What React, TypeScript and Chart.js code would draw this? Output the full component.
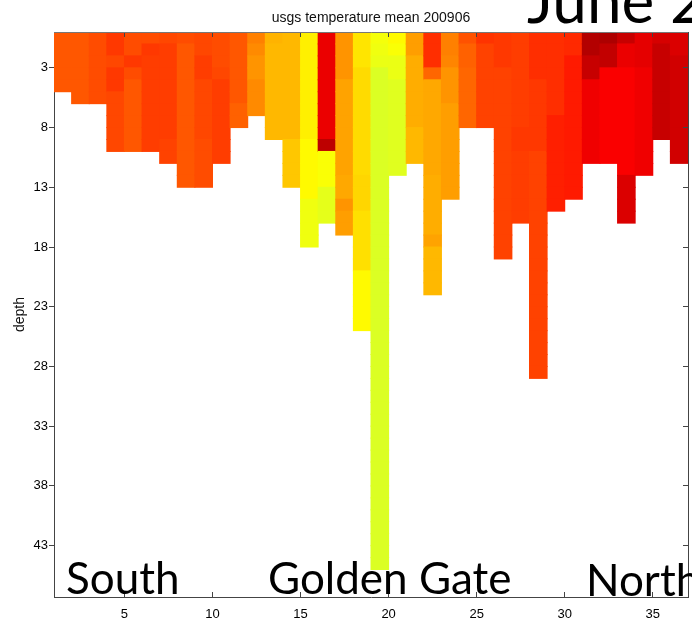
import React, { useEffect, useRef } from 'react';
import { Chart, registerables } from 'chart.js';

Chart.register(...registerables);

// ---------- data ----------
const chartTitle = 'usgs temperature mean 200906';
const yAxisTitle = 'depth';
const xTickValues = [5, 10, 15, 20, 25, 30, 35];
const yTickValues = [3, 8, 13, 18, 23, 28, 33, 38, 43];
const xRange = [1, 37];
const depthRange = [0, 47.3];
const colorLimits = [10, 20];

// station index (left edge of each column)
const stations = [
  1, 2, 3, 4, 5, 6, 7, 8, 9, 10, 11, 12, 13, 14, 15, 16, 17, 18,
  19, 20, 21, 22, 23, 24, 25, 26, 27, 28, 29, 30, 31, 32, 33, 34, 35, 36,
];

// mean temperature per 1 m depth cell, top to bottom, one list per station
const profiles: number[][] = [
  [17.9, 17.9, 17.9, 17.9, 17.9],
  [17.9, 17.9, 17.9, 17.9, 17.9, 17.9],
  [18.0, 18.0, 18.0, 18.0, 18.0, 18.0],
  [18.2, 18.2, 18.05, 18.2, 18.2, 18.05, 18.05, 18.05, 18.05, 18.05],
  [18.0, 18.0, 18.2, 18.0, 17.9, 17.9, 17.9, 17.9, 17.9, 17.9],
  [18.0, 18.2, 18.15, 18.15, 18.15, 18.15, 18.15, 18.15, 18.15, 18.15],
  [18.05, 18.15, 18.15, 18.15, 18.15, 18.15, 18.15, 18.15, 18.15, 18.1, 18.1],
  [18.0, 17.9, 17.9, 17.9, 17.9, 17.9, 17.9, 17.9, 17.9, 17.9, 17.9, 17.9, 17.9],
  [18.05, 18.05, 18.15, 18.15, 18.05, 18.05, 18.05, 18.05, 18.05, 18.0, 18.0, 18.0, 18.0],
  [18.0, 18.0, 18.0, 18.05, 18.15, 18.15, 18.15, 18.15, 18.15, 18.15, 18.15],
  [17.9, 17.9, 17.9, 17.9, 17.9, 17.9, 17.8, 17.8],
  [17.5, 17.4, 17.3, 17.3, 17.4, 17.4, 17.4],
  [17.0, 16.95, 16.95, 16.95, 16.95, 16.95, 16.95, 16.95, 16.95],
  [16.95, 16.95, 16.95, 16.95, 16.95, 16.95, 16.95, 16.95, 16.95, 16.8, 16.8, 16.8, 16.8],
  [16.4, 16.4, 16.4, 16.4, 16.4, 16.4, 16.4, 16.4, 16.4, 16.3, 16.3, 16.3, 16.3, 16.3, 16.1, 16.1, 16.1, 16.1],
  [18.95, 18.95, 18.95, 18.95, 18.95, 18.95, 18.95, 18.95, 18.95, 19.4, 16.2, 16.2, 16.2, 16.0, 16.0, 16.0],
  [17.3, 17.3, 17.3, 17.3, 17.15, 17.15, 17.15, 17.15, 17.15, 17.15, 17.15, 17.15, 17.1, 17.1, 17.3, 17.2, 17.2],
  [16.5, 16.5, 16.5, 16.6, 16.6, 16.6, 16.6, 16.6, 16.6, 16.6, 16.6, 16.6, 16.65, 16.65, 16.65, 16.55, 16.55, 16.55, 16.55, 16.55, 16.3, 16.3, 16.3, 16.3, 16.3],
  [16.15, 16.1, 16.05, 15.9, 15.9, 15.9, 15.9, 15.9, 15.9, 15.9, 15.9, 15.9, 15.9, 15.9, 15.9, 15.9, 15.9, 15.9, 15.9, 15.9, 15.9, 15.9, 15.9, 15.9, 15.9, 15.9, 15.9, 15.9, 15.9, 15.9, 15.9, 15.9, 15.9, 15.9, 15.9, 15.9, 15.9, 15.9, 15.9, 15.9, 15.9, 15.9, 15.9, 15.9, 15.9],
  [16.3, 16.2, 16.05, 16.05, 15.95, 15.95, 15.95, 15.95, 15.95, 15.95, 15.95, 15.95],
  [17.2, 17.2, 17.05, 17.05, 17.05, 17.05, 17.05, 17.05, 16.95, 16.95, 16.95],
  [18.3, 18.3, 18.3, 17.75, 17.1, 17.1, 17.1, 17.1, 17.1, 17.1, 17.1, 17.1, 17.05, 17.05, 17.05, 17.05, 17.05, 17.15, 16.95, 16.95, 16.95, 16.95],
  [17.5, 17.5, 17.45, 17.3, 17.3, 17.3, 17.2, 17.2, 17.2, 17.2, 17.2, 17.2, 17.2, 17.2],
  [17.95, 17.8, 17.8, 17.75, 17.75, 17.75, 17.75, 17.75],
  [18.25, 18.1, 18.1, 18.1, 18.1, 18.1, 18.1, 18.1],
  [18.2, 18.2, 18.2, 18.1, 18.1, 18.1, 18.1, 18.1, 18.1, 18.1, 18.1, 18.1, 18.1, 18.1, 18.1, 18.1, 18.1, 18.1, 18.1],
  [18.15, 18.15, 18.15, 18.15, 18.15, 18.15, 18.15, 18.15, 18.2, 18.2, 18.15, 18.15, 18.15, 18.15, 18.15, 18.15],
  [18.3, 18.3, 18.3, 18.3, 18.2, 18.2, 18.2, 18.2, 18.2, 18.2, 18.1, 18.1, 18.1, 18.1, 18.1, 18.1, 18.1, 18.1, 18.1, 18.1, 18.1, 18.1, 18.1, 18.1, 18.1, 18.1, 18.1, 18.1, 18.1],
  [18.3, 18.3, 18.3, 18.3, 18.3, 18.3, 18.3, 18.45, 18.45, 18.45, 18.45, 18.45, 18.45, 18.45, 18.45],
  [18.35, 18.35, 18.5, 18.5, 18.5, 18.5, 18.5, 18.5, 18.5, 18.5, 18.5, 18.5, 18.5, 18.5],
  [19.5, 19.5, 19.3, 19.3, 18.9, 18.9, 18.9, 18.9, 18.9, 18.9, 18.9],
  [19.55, 19.35, 19.35, 18.8, 18.8, 18.8, 18.8, 18.8, 18.8, 18.8, 18.8],
  [19.3, 18.95, 18.95, 18.8, 18.8, 18.8, 18.8, 18.8, 18.8, 18.8, 18.8, 18.8, 19.1, 19.1, 19.1, 19.1],
  [19.0, 19.0, 19.0, 18.9, 18.9, 18.9, 18.9, 18.9, 18.9, 18.9, 18.9, 18.9],
  [19.15, 19.3, 19.3, 19.3, 19.3, 19.3, 19.3, 19.3, 19.3],
  [19.1, 19.1, 19.2, 19.2, 19.2, 19.2, 19.2, 19.2, 19.2, 19.2, 19.2],
];

const regionLabels = ['South', 'Golden Gate', 'North'];
const dateLabel = 'June 2';

// ---------- helpers ----------
function jet(t: number): string {
  const v = Math.min(1, Math.max(0, (t - colorLimits[0]) / (colorLimits[1] - colorLimits[0])));
  const c = (x: number) => Math.round(255 * Math.min(1, Math.max(0, 1.5 - Math.abs(x))));
  return `rgb(${c(4 * v - 3)},${c(4 * v - 2)},${c(4 * v - 1)})`;
}

const fontFamily = '"Liberation Sans", Arial, sans-serif';
const tickFont = { family: fontFamily, size: 13 };
const axisColor = '#444';

export default function App() {
  const canvasRef = useRef<HTMLCanvasElement | null>(null);

  useEffect(() => {
    const canvas = canvasRef.current;
    if (!canvas) return;

    const points: { x: number; y: [number, number] }[] = [];
    const colors: string[] = [];
    stations.forEach((s, i) => {
      profiles[i].forEach((t, r) => {
        points.push({ x: s + 0.5, y: [r, r + 1] });
        colors.push(jet(t));
      });
    });

    const setX = (s: any) => { s.ticks = xTickValues.map((v) => ({ value: v })); };
    const setY = (s: any) => { s.ticks = yTickValues.map((v) => ({ value: v })); };

    const chart = new Chart(canvas, {
      type: 'bar',
      data: {
        datasets: [
          {
            data: points as any,
            backgroundColor: colors,
            borderWidth: 0,
            barPercentage: 1,
            categoryPercentage: 1,
            inflateAmount: 0.5,
          } as any,
        ],
      },
      options: {
        animation: false,
        responsive: false,
        maintainAspectRatio: false,
        layout: { padding: { left: 0, right: 4, top: 0, bottom: 0 } },
        plugins: {
          legend: { display: false },
          tooltip: { enabled: false },
          title: { display: false },
        },
        scales: {
          x: {
            type: 'linear',
            position: 'bottom',
            min: xRange[0],
            max: xRange[1],
            offset: false,
            afterBuildTicks: setX,
            afterFit: (s: any) => { s.height = 27; },
            grid: { display: true, offset: false, drawOnChartArea: false, drawTicks: true, tickLength: -5, color: axisColor, z: 1 },
            border: { display: true, color: axisColor, z: 1 },
            ticks: { color: '#000', font: tickFont, padding: 15, maxRotation: 0, autoSkip: false },
          },
          x2: {
            type: 'linear',
            position: 'top',
            min: xRange[0],
            max: xRange[1],
            offset: false,
            afterBuildTicks: setX,
            afterFit: (s: any) => { s.height = 32; },
            grid: { display: true, offset: false, drawOnChartArea: false, drawTicks: true, tickLength: -5, color: axisColor, z: 1 },
            border: { display: true, color: '#777', z: 1 },
            ticks: { display: false },
            title: {
              display: true,
              text: chartTitle,
              color: '#111',
              font: { family: fontFamily, size: 14 },
              padding: { top: 9.6, bottom: 0 },
            },
          },
          y: {
            type: 'linear',
            position: 'left',
            reverse: true,
            min: depthRange[0],
            max: depthRange[1],
            afterBuildTicks: setY,
            afterFit: (s: any) => { s.width = 54; },
            grid: { display: true, drawOnChartArea: false, drawTicks: true, tickLength: 5, color: axisColor },
            border: { display: true, color: axisColor },
            title: {
              display: true,
              text: yAxisTitle,
              color: '#111',
              font: { family: fontFamily, size: 14 },
              padding: { top: 11.6, bottom: 0 },
            },
            ticks: { color: '#000', font: tickFont, padding: 1, autoSkip: false },
          },
          y2: {
            type: 'linear',
            position: 'right',
            reverse: true,
            min: depthRange[0],
            max: depthRange[1],
            afterBuildTicks: setY,
            afterFit: (s: any) => { s.width = 0; },
            grid: { display: true, drawOnChartArea: false, drawTicks: true, tickLength: -5, color: axisColor, z: 1 },
            border: { display: true, color: axisColor, z: 1 },
            ticks: { display: false },
          },
        },
      } as any,
    });

    return () => chart.destroy();
  }, []);

  const bigFont = 'Lato, "Open Sans", sans-serif';
  const labelStyle = (left: number, top: number, size: number): React.CSSProperties => ({
    position: 'absolute',
    left,
    top,
    fontFamily: bigFont,
    fontSize: size,
    lineHeight: 1,
    whiteSpace: 'nowrap',
    color: '#000',
  });

  return (
    <div style={{ position: 'absolute', left: 0, top: 0, width: 692, height: 624, overflow: 'hidden', background: '#fff' }}>
      <canvas ref={canvasRef} width={692} height={624} style={{ width: 692, height: 624, display: 'block' }} />
      <div style={labelStyle(66, 555, 44)}>{regionLabels[0]}</div>
      <div style={labelStyle(268, 555, 44)}>{regionLabels[1]}</div>
      <div style={labelStyle(586, 557, 44)}>{regionLabels[2]}</div>
      <div style={labelStyle(527, -32, 62)}>{dateLabel}</div>
    </div>
  );
}
